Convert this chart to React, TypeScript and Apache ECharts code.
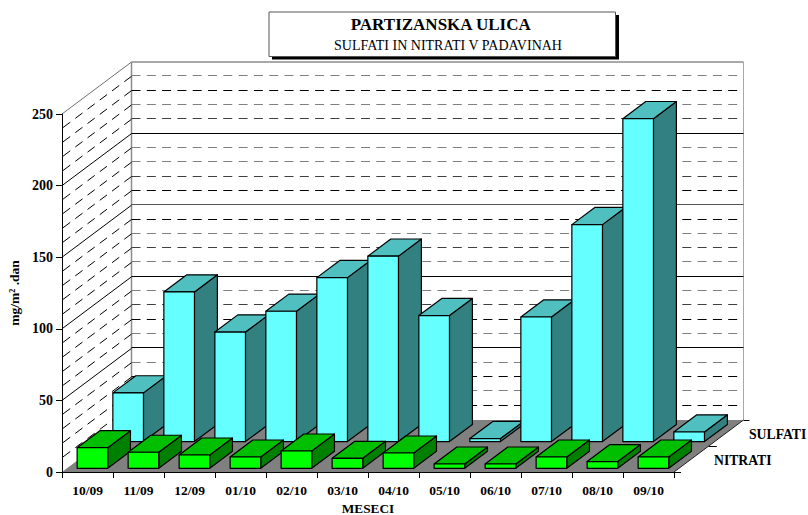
import React, { useEffect, useRef } from "react";
import * as echarts from "echarts";

const categories = ["10/09", "11/09", "12/09", "01/10", "02/10", "03/10", "04/10", "05/10", "06/10", "07/10", "08/10", "09/10"];
const sulfati = [34, 104.5, 76.5, 91, 114.5, 129.5, 88, 2.1, 87, 151.5, 225.5, 6.7];
const nitrati = [14.4, 11.2, 9.3, 7.9, 12.1, 7, 10.7, 3, 3, 7.9, 4.7, 7.9];
const wallValues = [10, 20, 30, 40, 50, 60, 70, 80, 90, 100, 110, 120, 130, 140, 150, 160, 170, 180, 190, 200, 210, 220, 230, 240, 250];
const wallTones = ["#000", "#808080", "#000", "#808080", "#000", "#808080", "#000", "#404040", "#808080", "#000", "#808080", "#404040", "#808080", "#000", "#555", "#000", "#404040", "#808080", "#808080", "#000", "#404040", "#808080", "#000", "#808080", "#808080"];

const FONT = "'Liberation Serif', 'Times New Roman', serif";
const DX = 69.5;
const DY = 52;
const BAR_SHARE = 0.6;

type Colors = { front: string; top: string; side: string };
const CYAN: Colors = { front: "#66FFFF", top: "#50BFBF", side: "#338080" };
const GREEN: Colors = { front: "#00FF00", top: "#00BF00", side: "#008000" };

const box = (d0: number, d1: number, colors: Colors) => (_: any, api: any) => {
  const i = api.value(0);
  const base = api.coord([i, 0]);
  const peak = api.coord([i, api.value(1)]);
  const w = api.size([1, 0])[0] * BAR_SHARE;
  const x0 = base[0] - w / 2 + d0 * DX;
  const x1 = x0 + w;
  const yb = base[1] - d0 * DY;
  const yt = peak[1] - d0 * DY;
  const ox = (d1 - d0) * DX;
  const oy = (d1 - d0) * DY;
  const common = { stroke: "#000", lineWidth: 1.2, lineJoin: "round" };
  return {
    type: "group",
    children: [
      { type: "polygon", shape: { points: [[x1, yb], [x1 + ox, yb - oy], [x1 + ox, yt - oy], [x1, yt]] }, style: { fill: colors.side, ...common } },
      { type: "polygon", shape: { points: [[x0, yt], [x1, yt], [x1 + ox, yt - oy], [x0 + ox, yt - oy]] }, style: { fill: colors.top, ...common } },
      { type: "rect", shape: { x: x0, y: yt, width: w, height: yb - yt }, style: { fill: colors.front, ...common } },
    ],
  };
};

const room = (params: any, api: any) => {
  const cs = params.coordSys;
  const l = cs.x, r = cs.x + cs.width, b = cs.y + cs.height, t = cs.y;
  const edge = { stroke: "#8c8c8c", lineWidth: 1.5 };
  const line = (x1: number, y1: number, x2: number, y2: number, style: any) => ({ type: "line", shape: { x1, y1, x2, y2 }, style });
  return {
    type: "group",
    children: [
      { type: "polygon", shape: { points: [[l, b], [r, b], [r + DX, b - DY], [l + DX, b - DY]] }, style: { fill: "#808080" } },
      line(l + DX, b - DY, l + DX, t - DY, edge),
      line(r + DX, b - DY, r + DX, t - DY, { stroke: "#a8a8a8", lineWidth: 1 }),
      line(l, t, l + DX, t - DY, { stroke: "#707070", lineWidth: 1 }),
      line(l + DX, t - DY, r + DX, t - DY, edge),
      line(r, b, r + DX, b - DY, { stroke: "#202020", lineWidth: 1 }),
      line(r, b + 0.5, r + 7, b + 0.5, { stroke: "#000", lineWidth: 1 }),
      line(r + DX / 2, b - DY / 2 + 0.5, r + DX / 2 + 8, b - DY / 2 + 0.5, { stroke: "#000", lineWidth: 1 }),
      line(r + DX, b - DY + 0.5, r + DX + 6, b - DY + 0.5, { stroke: "#000", lineWidth: 1 }),
    ],
  };
};

const wallLine = (params: any, api: any) => {
  const cs = params.coordSys;
  const v = api.value(1);
  const y = api.coord([0, v])[1];
  const back = Math.round(y - DY) - 0.5;
  const left = cs.x + DX;
  const right = cs.x + cs.width + DX;
  if (v === 250) return { type: "group", children: [] };
  const solid = v % 50 === 0;
  const dash = solid ? undefined : [9, 6.3];
  return {
    type: "group",
    children: [
      { type: "line", shape: { x1: left, y1: back, x2: right - (solid ? 0 : 6), y2: back }, style: { stroke: wallTones[params.dataIndex], lineWidth: 1, lineDash: dash } },
      { type: "line", shape: { x1: left, y1: y - DY, x2: cs.x, y2: y }, style: { stroke: "#000", lineWidth: 1, lineDash: dash } },
    ],
  };
};

const text = (x: number, y: number, t: string, size: number, bold = true, align = "center") => ({
  type: "text",
  x,
  y,
  z: 20,
  style: { text: t, fill: "#000", font: `${bold ? "bold " : ""}${size}px ${FONT}`, textAlign: align, textVerticalAlign: "middle" },
});

export default function App() {
  const ref = useRef<HTMLDivElement>(null);
  useEffect(() => {
    const chart = echarts.init(ref.current!, undefined, { renderer: "svg" });
    chart.setOption({
      animation: false,
      backgroundColor: "#fff",
      grid: { left: 62, top: 114, width: 612, height: 358, containLabel: false, outerBoundsMode: "none" },
      xAxis: {
        type: "category",
        data: categories,
        z: 10,
        name: "MESECI",
        nameLocation: "middle",
        nameGap: 30,
        nameTextStyle: { color: "#000", fontFamily: FONT, fontWeight: "bold", fontSize: 13.3 },
        axisLine: { lineStyle: { color: "#000", width: 1 } },
        axisTick: { show: true, length: 6, lineStyle: { color: "#000" } },
        axisLabel: { interval: 0, color: "#000", fontFamily: FONT, fontWeight: "bold", fontSize: 13.5, margin: 11 },
        splitLine: { show: false },
      },
      yAxis: {
        type: "value",
        min: 0,
        max: 250,
        interval: 50,
        z: 10,
        name: "mg/m² .dan",
        nameLocation: "middle",
        nameGap: 40,
        nameTextStyle: { color: "#000", fontFamily: FONT, fontWeight: "bold", fontSize: 13.5 },
        axisLine: { show: true, lineStyle: { color: "#000", width: 1 } },
        axisTick: { show: true, length: 6, lineStyle: { color: "#000" } },
        axisLabel: { color: "#000", fontFamily: FONT, fontWeight: "bold", fontSize: 14, margin: 9 },
        splitLine: { show: false },
      },
      series: [
        { type: "custom", z: 1, silent: true, data: [[0, 0]], renderItem: room, clip: false },
        { type: "custom", z: 2, silent: true, data: wallValues.map((v) => [0, v]), renderItem: wallLine, clip: false },
        { type: "custom", name: "SULFATI", z: 3, silent: true, data: sulfati.map((v, i) => [i, v]), renderItem: box(0.585, 0.915, CYAN), clip: false },
        { type: "custom", name: "NITRATI", z: 4, silent: true, data: nitrati.map((v, i) => [i, v]), renderItem: box(0.071, 0.398, GREEN), clip: false },
      ],
      graphic: [
        { type: "rect", z: 18, shape: { x: 272, y: 15, width: 347, height: 44.5 }, style: { fill: "#000" } },
        { type: "rect", z: 19, shape: { x: 269, y: 12, width: 346.5, height: 44.5 }, style: { fill: "#fff", stroke: "#555", lineWidth: 1 } },
        text(440.7, 24.5, "PARTIZANSKA ULICA", 17),
        text(448, 45.5, "SULFATI IN NITRATI V PADAVINAH", 14, false),
        text(749, 434.5, "SULFATI", 13.7, true, "left"),
        text(714, 460.5, "NITRATI", 13.7, true, "left"),
      ],
    });
    return () => chart.dispose();
  }, []);
  return <div ref={ref} style={{ position: "absolute", left: 0, top: 0, width: 808, height: 515 }} />;
}
